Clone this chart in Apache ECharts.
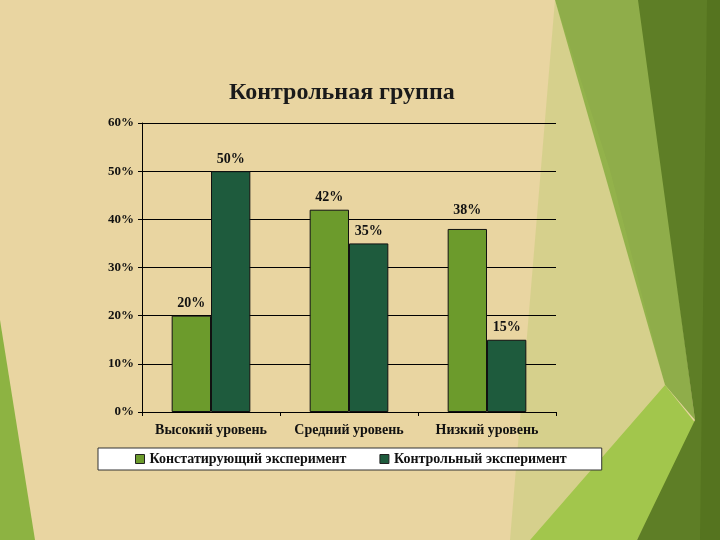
<!DOCTYPE html>
<html><head><meta charset="utf-8">
<style>
html,body{margin:0;padding:0;}
#c{width:720px;height:540px;background:#e9d5a1;}
</style>
<script src="https://cdn.jsdelivr.net/npm/echarts@6/dist/echarts.min.js"></script>
</head><body><div id="c"></div>
<script>
const titleText = 'Контрольная группа';
const categories = ['Высокий уровень', 'Средний уровень', 'Низкий уровень'];
const seriesNames = ['Констатирующий эксперимент', 'Контрольный эксперимент'];
const stating = [20, 42, 38];
const control = [50, 35, 15];
const yTicks = { min: 0, max: 60, interval: 10 };

const serif = '"Liberation Serif", "DejaVu Serif", serif';
const chart = echarts.init(document.getElementById('c'), null, {renderer: 'canvas'});
const lbl = {show: true, position: 'top', distance: 5, formatter: '{c}%', color: '#111', fontFamily: serif, fontWeight: 'bold', fontSize: 14};

chart.setOption({
  backgroundColor: '#e9d5a1',
  graphic: [
    {type: 'polygon', z: -10, shape: {points: [[555,0],[640,0],[695,420],[665,385]]}, style: {fill: '#8fad4a'}},
    {type: 'polygon', z: -10, shape: {points: [[555,0],[610,170],[665,385],[530,540],[510,540]]}, style: {fill: 'rgba(160,195,80,0.25)'}},
    {type: 'polygon', z: -10, shape: {points: [[530,540],[665,385],[697,425],[637,540]]}, style: {fill: '#a2c64c'}},
    {type: 'polygon', z: -10, shape: {points: [[638,0],[720,0],[720,540],[637,540],[695,420]]}, style: {fill: '#5e7e26'}},
    {type: 'polygon', z: -10, shape: {points: [[707,0],[720,0],[720,540],[700,540]]}, style: {fill: '#55741f'}},
    {type: 'polygon', z: -10, shape: {points: [[0,320],[35,540],[0,540]]}, style: {fill: '#8db342'}}
  ],
  title: {
    text: titleText, left: 224, top: 76,
    textStyle: {fontFamily: serif, fontWeight: 'bold', fontSize: 24, color: '#1a1a1a'}
  },
  legend: {
    data: seriesNames, left: 98, top: 448,
    padding: [4, 35, 4, 37], itemGap: 33, itemWidth: 9, itemHeight: 9,
    backgroundColor: '#ffffff', borderColor: '#333', borderWidth: 1,
    icon: 'rect',
    itemStyle: {borderColor: '#222', borderWidth: 1},
    textStyle: {fontFamily: serif, fontWeight: 'bold', fontSize: 14, color: '#111'}
  },
  grid: {left: 142, right: 164, top: 123, bottom: 128, containLabel: false},
  xAxis: {
    type: 'category', data: categories,
    axisLine: {lineStyle: {color: '#000', width: 1}},
    axisTick: {show: true, length: 4, lineStyle: {color: '#000'}},
    axisLabel: {interval: 0, hideOverlap: false, margin: 11, fontFamily: serif, fontWeight: 'bold', fontSize: 14, color: '#111'}
  },
  yAxis: {
    type: 'value', min: yTicks.min, max: yTicks.max, interval: yTicks.interval,
    axisLine: {show: true, lineStyle: {color: '#000', width: 1}},
    axisTick: {show: true, length: 4, lineStyle: {color: '#000'}},
    splitLine: {show: true, lineStyle: {color: '#000', width: 1}},
    axisLabel: {formatter: '{value}%', margin: 8, fontFamily: serif, fontWeight: 'bold', fontSize: 13, color: '#111'}
  },
  series: [
    {name: seriesNames[0], type: 'bar', barGap: '0%', barCategoryGap: '43%',
     data: stating.map((v, i) => i === 2 ? {value: v, label: {distance: 12}} : v),
     itemStyle: {color: '#6c9b2c', borderColor: '#111', borderWidth: 1}, label: lbl},
    {name: seriesNames[1], type: 'bar', data: control, barGap: '0%', barCategoryGap: '43%',
     itemStyle: {color: '#1e5b3d', borderColor: '#111', borderWidth: 1}, label: lbl}
  ],
  animation: false
});
</script></body></html>
